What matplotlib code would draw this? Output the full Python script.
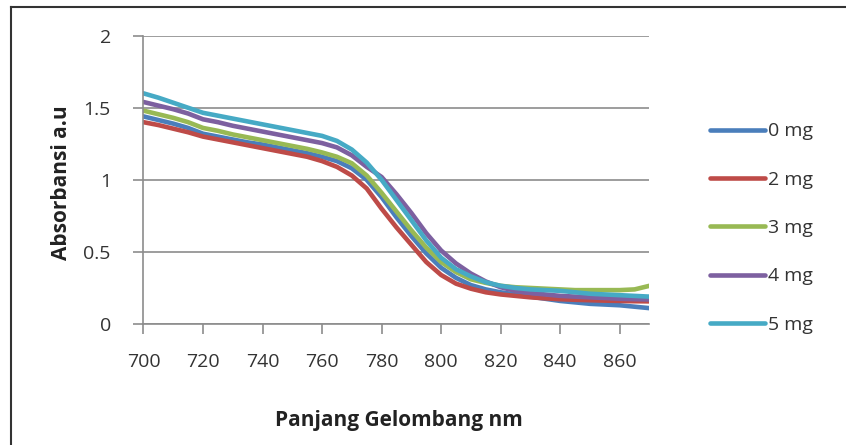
import matplotlib
matplotlib.use('Agg')
import matplotlib.pyplot as plt
from matplotlib.lines import Line2D

plt.rcParams['font.family'] = ['Open Sans', 'DejaVu Sans']

# data
wavelength = [700, 705, 710, 715, 720, 725, 730, 735, 740, 745, 750, 755,
              760, 765, 770, 775, 780, 785, 790, 795, 800, 805, 810, 815,
              820, 825, 830, 835, 840, 845, 850, 855, 860, 865, 870]

abs_0mg = [1.44, 1.415, 1.39, 1.36, 1.32, 1.30, 1.28, 1.26, 1.245, 1.225, 1.205, 1.185,
           1.16, 1.13, 1.08, 1.00, 0.88, 0.74, 0.61, 0.49, 0.39, 0.32, 0.27, 0.24,
           0.22, 0.205, 0.19, 0.175, 0.16, 0.15, 0.14, 0.135, 0.13, 0.12, 0.11]
abs_2mg = [1.40, 1.38, 1.355, 1.33, 1.30, 1.28, 1.26, 1.24, 1.22, 1.20, 1.18, 1.16,
           1.13, 1.09, 1.03, 0.94, 0.80, 0.67, 0.55, 0.43, 0.34, 0.28, 0.245, 0.22,
           0.205, 0.195, 0.185, 0.178, 0.172, 0.168, 0.165, 0.162, 0.16, 0.158, 0.157]
abs_3mg = [1.48, 1.455, 1.43, 1.40, 1.36, 1.34, 1.315, 1.295, 1.275, 1.255, 1.235, 1.215,
           1.19, 1.16, 1.115, 1.03, 0.91, 0.78, 0.65, 0.53, 0.43, 0.36, 0.31, 0.285,
           0.265, 0.255, 0.25, 0.245, 0.24, 0.235, 0.235, 0.235, 0.235, 0.24, 0.265]
abs_4mg = [1.54, 1.515, 1.49, 1.46, 1.42, 1.40, 1.375, 1.355, 1.335, 1.315, 1.295, 1.275,
           1.255, 1.225, 1.17, 1.09, 1.02, 0.90, 0.77, 0.63, 0.51, 0.42, 0.35, 0.295,
           0.255, 0.23, 0.215, 0.205, 0.195, 0.19, 0.185, 0.18, 0.175, 0.172, 0.17]
abs_5mg = [1.60, 1.57, 1.535, 1.50, 1.465, 1.445, 1.425, 1.405, 1.385, 1.365, 1.345, 1.325,
           1.305, 1.27, 1.21, 1.12, 1.00, 0.86, 0.72, 0.58, 0.46, 0.38, 0.33, 0.29,
           0.265, 0.25, 0.24, 0.235, 0.23, 0.22, 0.21, 0.205, 0.20, 0.195, 0.19]

labels = ['0 mg', '2 mg', '3 mg', '4 mg', '5 mg']
colors = ['#4A7EBB', '#BE4B48', '#98B954', '#7D60A0', '#46AAC5']
series = [abs_0mg, abs_2mg, abs_3mg, abs_4mg, abs_5mg]

fig = plt.figure(figsize=(8.46, 4.45), dpi=100)
ax = fig.add_axes([0.1696, 0.2719, 0.5981, 0.6479])

for vals, lab, col in zip(series, labels, colors):
    ax.plot(wavelength, vals, color=col, lw=3.3, label=lab, solid_capstyle='round')

ax.set_xlim(700, 870)
ax.set_ylim(0, 2)
ax.set_xticks(range(700, 861, 20))
ax.set_yticks([0, 0.5, 1, 1.5, 2])
ax.set_yticklabels(['0', '0.5', '1', '1.5', '2'])

grid_col = '#8C8C8C'
ax.grid(axis='y', color=grid_col, lw=1.2)
ax.set_axisbelow(True)
for s in ['top', 'right']:
    ax.spines[s].set_visible(False)
for s in ['left', 'bottom']:
    ax.spines[s].set_color(grid_col)
    ax.spines[s].set_linewidth(1.2)

ax.tick_params(axis='x', direction='out', length=7, width=1.2, color=grid_col,
               pad=14, labelsize=14, labelcolor='#333333')
ax.tick_params(axis='y', direction='out', length=7.5, width=1.2, color=grid_col,
               pad=16, labelsize=14, labelcolor='#333333')

fig.text(0.4716, 0.056, 'Panjang Gelombang nm', ha='center', va='center',
         fontsize=15, fontweight='bold', color='#222222')
fig.text(0.073, 0.589, 'Absorbansi a.u', ha='center', va='center', rotation=90,
         fontsize=15, fontweight='bold', color='#222222')

leg = ax.legend(loc='center left', bbox_to_anchor=(0.839, 0.4876),
                bbox_transform=fig.transFigure, frameon=False, fontsize=14,
                handlelength=2.85, handletextpad=0.15, labelspacing=1.56,
                borderpad=0, borderaxespad=0)
for t in leg.get_texts():
    t.set_color('#333333')

# outer border (only top and left visible in the reference)
fig.add_artist(Line2D([0.013, 1.0], [0.9843, 0.9843], color='#333333', lw=1.5,
                      transform=fig.transFigure))
fig.add_artist(Line2D([0.013, 0.013], [0.0, 0.9843], color='#333333', lw=1.5,
                      transform=fig.transFigure))

fig.savefig('out.png', dpi=100)
